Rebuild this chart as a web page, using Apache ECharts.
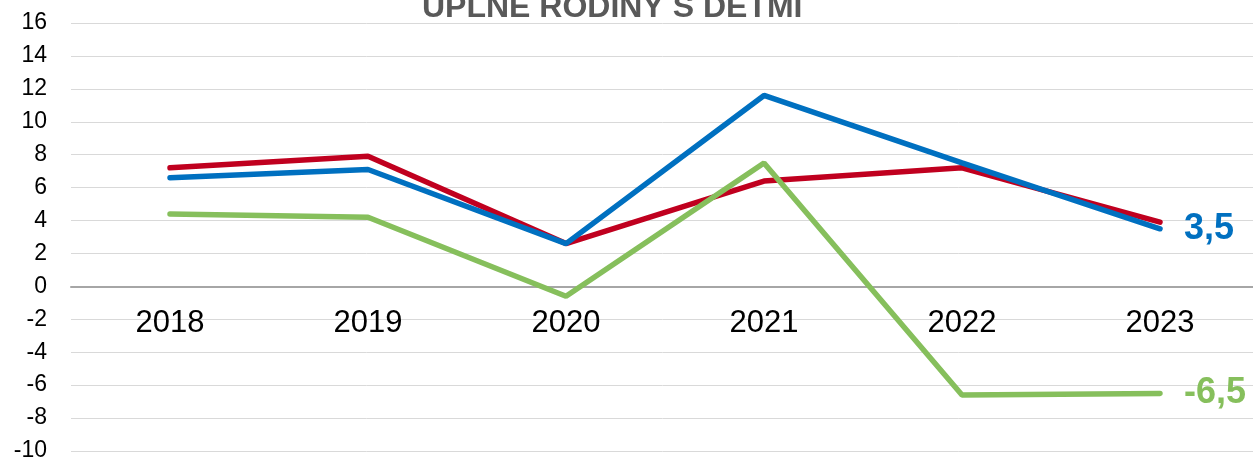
<!DOCTYPE html>
<html>
<head>
<meta charset="utf-8">
<script src="https://cdn.jsdelivr.net/npm/echarts@6/dist/echarts.min.js"></script>
<style>
  html, body { margin: 0; padding: 0; background: #fff; }
  #chart { width: 1253px; height: 462px; }
</style>
</head>
<body>
<div id="chart"></div>
<script>
const years = ['2018', '2019', '2020', '2021', '2022', '2023'];
const blueValues = [6.6, 7.1, 2.6, 11.6, 7.5, 3.5];
const redValues = [7.2, 7.9, 2.6, 6.4, 7.2, 3.9];
const greenValues = [4.4, 4.2, -0.6, 7.5, -6.6, -6.5];

const chart = echarts.init(document.getElementById('chart'));

function lineSeries(name, data, color, showEnd) {
  return {
    name: name,
    type: 'line',
    data: data,
    symbol: 'none',
    lineStyle: { color: color, width: 5.5, cap: 'round' },
    itemStyle: { color: color },
    endLabel: {
      show: showEnd,
      distance: 24,
      color: color,
      fontSize: 36,
      fontWeight: 'bold',
      fontFamily: 'Liberation Sans',
      formatter: p => String(p.value).replace('.', ',')
    },
    z: showEnd ? 3 : 2
  };
}

chart.setOption({
  animation: false,
  title: {
    text: 'ÚPLNÉ RODINY S DEŤMI',
    left: 417,
    top: -13,
    textStyle: { color: '#595959', fontSize: 32, fontWeight: 'bold', fontFamily: 'Liberation Sans' }
  },
  grid: { left: 71, right: -6, top: 23, bottom: 11, outerBoundsMode: 'none' },
  xAxis: {
    type: 'category',
    data: years,
    boundaryGap: true,
    offset: -164.5,
    axisLine: { onZero: false, lineStyle: { color: '#a6a6a6', width: 2 } },
    axisTick: { show: false },
    axisLabel: { color: '#000', fontSize: 31, margin: 21, fontFamily: 'Liberation Sans' }
  },
  yAxis: {
    type: 'value',
    min: -10,
    max: 16,
    interval: 2,
    axisLine: { show: false },
    axisTick: { show: false },
    splitLine: { lineStyle: { color: '#d9d9d9', width: 1 } },
    axisLabel: { color: '#000', fontSize: 23, margin: 24, fontFamily: 'Liberation Sans' }
  },
  series: [
    lineSeries('Séria 3', greenValues, '#86BF5C', true),
    lineSeries('Séria 2', redValues, '#C0001F', false),
    lineSeries('Séria 1', blueValues, '#0070C0', true)
  ]
});
</script>
</body>
</html>
